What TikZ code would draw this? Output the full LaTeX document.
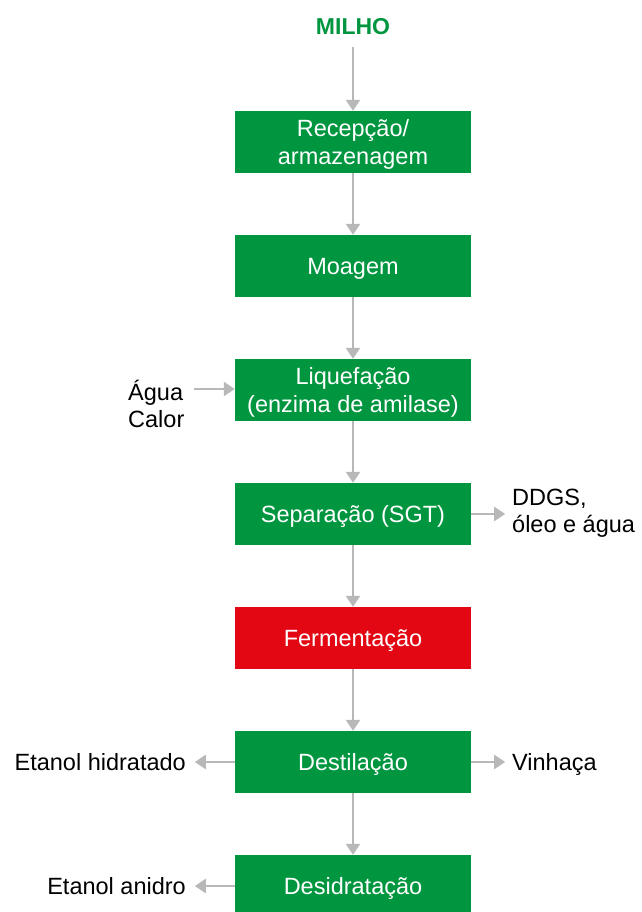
\documentclass[tikz,border=0pt]{standalone}
\usepackage{fontspec}
\setmainfont{Liberation Sans}
\usetikzlibrary{arrows.meta}
\definecolor{boxgreen}{HTML}{009640}
\definecolor{boxred}{HTML}{E30613}
\definecolor{arrowgray}{HTML}{B8B8B8}
\begin{document}
\begin{tikzpicture}[x=1pt,y=-1pt,
  procbox/.style={fill=boxgreen, draw=none, minimum width=236pt, minimum height=62pt, inner sep=0pt,
    text=white, align=center, font=\fontsize{23.5}{28}\selectfont, text height=21.3pt, text depth=5pt},
  twoline/.style={text height=49.3pt},
  redbox/.style={procbox, fill=boxred},
  sidetext/.style={font=\fontsize{23.5}{27}\selectfont, inner sep=0pt, text=black},
  oneline/.style={text height=21.3pt, text depth=5pt},
  flow/.style={draw=arrowgray, line width=2.4pt, -{Triangle[length=11pt,width=14pt]}}]
\useasboundingbox (0,0) rectangle (641,912);
\node[font=\bfseries\fontsize{23}{26}\selectfont, text=boxgreen, inner sep=0pt] (milho) at (353,27) {MILHO};
\node[procbox, twoline] (rec) at (353,142) {Recepção/\\armazenagem};
\node[procbox] (moa) at (353,266) {Moagem};
\node[procbox, twoline] (liq) at (353,390) {Liquefação\\(enzima de amilase)};
\node[procbox] (sep) at (353,514) {Separação (SGT)};
\node[redbox] (fer) at (353,638) {Fermentação};
\node[procbox] (des) at (353,762) {Destilação};
\node[procbox] (dsd) at (353,886) {Desidratação};

\node[sidetext, align=left, anchor=west] (agua) at (128,404) {Água\\Calor};
\node[sidetext, align=left, anchor=west] (ddgs) at (512,513) {DDGS,\\óleo e água};
\node[sidetext, oneline, anchor=east] (eh) at (186,762) {Etanol hidratado};
\node[sidetext, oneline, anchor=west] (vin) at (512,762) {Vinhaça};
\node[sidetext, oneline, anchor=east] (ea) at (186,886) {Etanol anidro};

\coordinate (aguaR) at (194,389);
\draw[flow] (milho.south) ++(0,12) -- (rec.north);
\draw[flow] (rec) -- (moa);
\draw[flow] (moa) -- (liq);
\draw[flow] (liq) -- (sep);
\draw[flow] (sep) -- (fer);
\draw[flow] (fer) -- (des);
\draw[flow] (des) -- (dsd);
\draw[flow] (aguaR) -- (liq.west |- aguaR);
\draw[flow] (sep.east) -- ++(34,0);
\draw[flow] (des.east) -- ++(34,0);
\draw[flow] (des.west) -- ++(-40,0);
\draw[flow] (dsd.west) -- ++(-40,0);
\end{tikzpicture}
\end{document}
